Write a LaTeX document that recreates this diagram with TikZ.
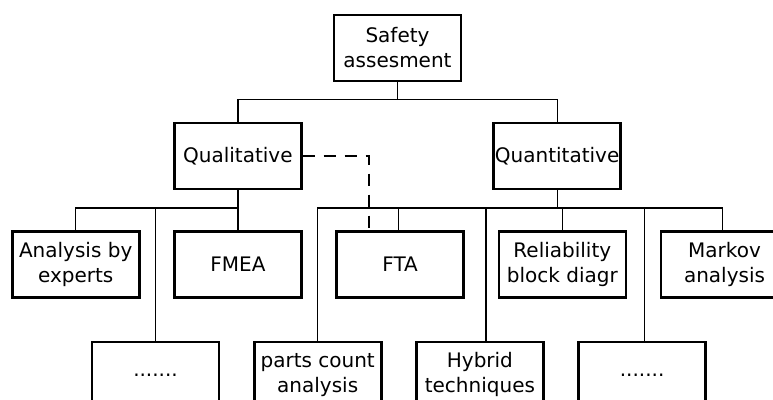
\documentclass[tikz,border=0pt]{standalone}
\usepackage{fontspec}
\setmainfont{DejaVu Sans}
\usepackage{tikz}
\usetikzlibrary{positioning}

\begin{document}
\begin{tikzpicture}[
        x = 1pt, y = 1pt,
        Box/.style = {rectangle, draw = black, line width = 2.6pt, fill = white, align = center, minimum width = 127pt, minimum height = 66pt, inner sep = 0pt, font = \fontsize{20}{25}\selectfont},
        % 
        Branch/.style = {draw = black, line width = 1.2pt},
        % 
        Link/.style = {draw = black, line width = 1.3pt, dash pattern = on 12pt off 9pt},
    ]
        \clip (0,0) rectangle (773,-399);
        \fill[white] (0,0) rectangle (773,-399);

        % Top
        \node[Box] (Safety) at (397.5,-48) {Safety\\assesment};
        \node[Box] (Qualitative) [below = 39.5pt of Safety, xshift = -159.6pt] {Qualitative};
        \node[Box] (Quantitative) [below = 39.5pt of Safety, xshift = 159.6pt] {Quantitative};

        % Methods
        \node[Box] (FMEA) [below = 40pt of Qualitative] {FMEA};
        \node[Box] (Experts) [left = 32.6pt of FMEA] {Analysis by\\experts};
        \node[Box] (FTA) [right = 32.6pt of FMEA] {FTA};
        \node[Box] (Reliability) [right = 32.6pt of FTA] {Reliability\\block diagr};
        \node[Box] (Markov) [right = 32.6pt of Reliability] {Markov\\analysis};

        % Lower row
        \node[Box] (DotsQual) [below = 41.5pt of Experts, xshift = 79.8pt] {.......};
        \node[Box] (PartsCount) [right = 32.6pt of DotsQual] {parts count\\analysis};
        \node[Box] (Hybrid) [right = 32.6pt of PartsCount] {Hybrid\\techniques};
        \node[Box] (DotsQuant) [right = 32.6pt of Hybrid] {.......};

        % Arrows top
        \draw[Branch] (Safety.south) -- ++(0,-17) -| (Qualitative.north);
        \draw[Branch] (Safety.south) -- ++(0,-17) -| (Quantitative.north);

        % Arrows qualitative
        \draw[Branch] (Qualitative.south) -- ++(0,-17.5) -| (Experts.north);
        \draw[Branch] (Qualitative.south) -- ++(0,-17.5) -| (DotsQual.north);
        \draw[Branch] (Qualitative.south) -- ++(0,-17.5) -| (FMEA.north);

        % Arrows quantitative
        \draw[Branch] (Quantitative.south) -- ++(0,-17.5) -| (PartsCount.north);
        \draw[Branch] (Quantitative.south) -- ++(0,-17.5) -| ([xshift = -2pt]FTA.north);
        \draw[Branch] (Quantitative.south) -- ++(0,-17.5) -| ([xshift = 6pt]Hybrid.north);
        \draw[Branch] (Quantitative.south) -- ++(0,-17.5) -| (Reliability.north);
        \draw[Branch] (Quantitative.south) -- ++(0,-17.5) -| ([xshift = 2pt]DotsQuant.north);
        \draw[Branch] (Quantitative.south) -- ++(0,-17.5) -| ([xshift = -2pt]Markov.north);

        % Dashed
        \draw[Link] (Qualitative.east) -| ([xshift = -31pt]FTA.north);

    \end{tikzpicture}
\end{document}
